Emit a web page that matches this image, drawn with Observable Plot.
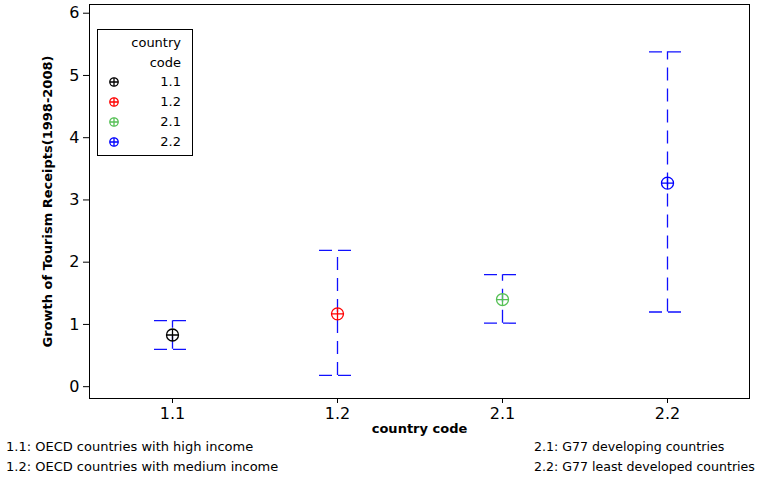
<!DOCTYPE html>
<html><head><meta charset="utf-8">
<script src="https://cdn.jsdelivr.net/npm/d3@7"></script>
<script src="https://cdn.jsdelivr.net/npm/@observablehq/plot@0.6"></script>
<style>
body{margin:0;background:#fff;font-family:"DejaVu Sans",sans-serif;}
#wrap{position:relative;width:759px;height:481px;}
.note{position:absolute;font-size:13px;color:#000;white-space:nowrap;}
#legend{position:absolute;left:97px;top:29px;width:94px;height:125px;border:1px solid #000;background:#fff;font-size:13px;}
#legend .t{position:absolute;right:11px;text-align:right;}
</style></head>
<body><div id="wrap"></div>
<script>
const codes = ["1.1", "1.2", "2.1", "2.2"];
const means = [0.83, 1.17, 1.40, 3.27];
const lowers = [0.60, 0.18, 1.02, 1.20];
const uppers = [1.06, 2.19, 1.80, 5.38];
const colors = ["#000000", "#ff0000", "#55c055", "#0000ff"];
const notes = ["1.1: OECD countries with high income", "1.2: OECD countries with medium income", "2.1: G77 developing countries", "2.2: G77 least developed countries"];
const yTicks = [0, 1, 2, 3, 4, 5, 6];

const rows = codes.map((c, i) => ({code: c, mean: means[i], lo: lowers[i], hi: uppers[i], color: colors[i]}));
const caps = rows.flatMap(r => [{code: r.code, y: r.lo}, {code: r.code, y: r.hi}]);

const crossCircle = {
  draw(ctx, size) {
    const r = Math.sqrt(size / Math.PI);
    ctx.moveTo(r, 0);
    ctx.arc(0, 0, r, 0, 2 * Math.PI);
    ctx.moveTo(-r, 0); ctx.lineTo(r, 0);
    ctx.moveTo(0, -r); ctx.lineTo(0, r);
  }
};

const chart = Plot.plot({
  width: 759, height: 440,
  marginTop: 4, marginBottom: 42, marginLeft: 89, marginRight: 10,
  style: {fontFamily: "DejaVu Sans, sans-serif", background: "white", fontSize: "16px"},
  x: {type: "band", domain: codes, paddingInner: 0.782, paddingOuter: 0.391},
  y: {domain: [-0.19, 6.14]},
  marks: [
    Plot.frame({stroke: "black"}),
    Plot.axisY({ticks: yTicks, tickSize: 6, tickPadding: 4, fontSize: 16, label: null, tickFormat: d => d}),
    Plot.axisX({tickSize: 5, tickPadding: 4, fontSize: 16, label: null}),
    Plot.text(["Growth of Tourism Receipts(1998-2008)"], {frameAnchor: "left", textAnchor: "middle", rotate: -90, dx: -42, fontSize: 13, fontWeight: "bold"}),
    Plot.text(["country code"], {frameAnchor: "bottom", dy: 34, fontSize: 13, fontWeight: "bold"}),
    Plot.ruleX(rows, {x: "code", y1: "lo", y2: "hi", stroke: "#1010ff", strokeWidth: 1.3, strokeDasharray: "13,8"}),
    Plot.tickY(caps, {x: "code", y: "y", stroke: "#1010ff", strokeWidth: 1.3, strokeDasharray: "13,6"}),
    Plot.dot(rows, {x: "code", y: "mean", stroke: "color", symbol: crossCircle, r: 6, strokeWidth: 1.3, fill: "none"})
  ]
});
const wrap = document.getElementById("wrap");
wrap.appendChild(chart);

const pos = [[6, 439, 13], [6, 459, 13], [534, 439, 12.6], [534, 459, 12.6]];
notes.forEach((n, i) => {
  const d = document.createElement("div");
  d.className = "note"; d.textContent = n;
  d.style.left = pos[i][0] + "px"; d.style.top = pos[i][1] + "px"; d.style.fontSize = pos[i][2] + "px";
  wrap.appendChild(d);
});

const lg = document.createElement("div");
lg.id = "legend";
let html = '<div class="t" style="top:5px">country</div><div class="t" style="top:25px">code</div>';
codes.forEach((c, i) => {
  const top = 44 + i * 20;
  html += `<svg style="position:absolute;left:10px;top:${top+2}px" width="12" height="12"><g fill="none" stroke="${colors[i]}" stroke-width="1.3"><circle cx="6" cy="6" r="4.2"/><path d="M1.8,6H10.2M6,1.8V10.2"/></g></svg>`;
  html += `<div class="t" style="top:${top}px">${c}</div>`;
});
lg.innerHTML = html;
wrap.appendChild(lg);
</script></body></html>
